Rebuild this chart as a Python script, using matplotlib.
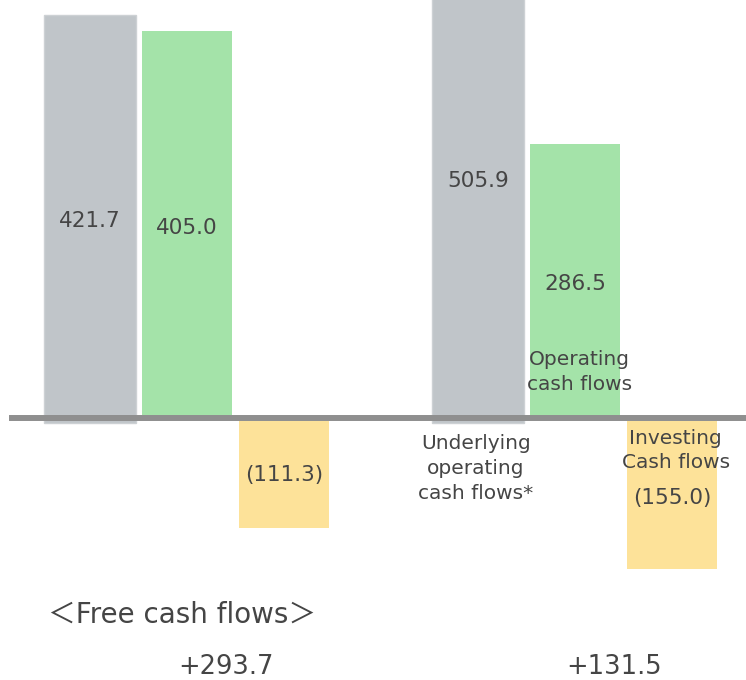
import numpy as np
import matplotlib.pyplot as plt

# Cash flow data (two periods)
underlying = [421.7, 505.9]
operating = [405.0, 286.5]
investing = [-111.3, -155.0]
free_cf = [293.7, 131.5]

gray = '#c0c5c9'
green = '#a4e3a9'
yellow = '#fde299'
txt = '#454545'

fig = plt.figure(figsize=(7.46, 6.8), dpi=100)
ax = fig.add_axes([0, 0, 1, 1])
ax.set_xlim(-0.928, 6.763)
ax.set_ylim(-274.3, 437.7)
ax.axis('off')

groups = np.array([0, 4])

# bars
ax.bar(groups, np.array(underlying) + 5, bottom=-5, width=0.95, color=gray,
       edgecolor='#cdd1d4', linewidth=1, zorder=2)
ax.bar(groups + 1, operating, width=0.92, color=green, zorder=2)
ax.bar(groups + 2, investing, bottom=-3.5, width=0.92, color=yellow, zorder=2)

# baseline
ax.axhline(0, xmin=12 / 746, xmax=1, color='#8f8f8f', lw=4.3, zorder=3)

# value labels
for i, g in enumerate(groups):
    ax.text(g, underlying[i] * 0.49, f'{underlying[i]:.1f}', ha='center', va='center',
            fontsize=15.5, color=txt, zorder=4)
    ax.text(g + 1, operating[i] * 0.49, f'{operating[i]:.1f}', ha='center', va='center',
            fontsize=15.5, color=txt, zorder=4)
    ax.text(g + 2, investing[i] * 0.54, f'({-investing[i]:.1f})', ha='center', va='center',
            fontsize=15.5, color=txt, zorder=4)
    ax.text(g + 1.4, -261, f'+{free_cf[i]:.1f}', ha='center', va='center',
            fontsize=18.5, color=txt)

# category labels (second group only)
ax.text(groups[1] - 0.02, -53, 'Underlying\noperating\ncash flows*', ha='center', va='center',
        fontsize=14.5, color=txt, linespacing=1.4, zorder=4)
ax.text(groups[1] + 1.05, 48, 'Operating\ncash flows', ha='center', va='center',
        fontsize=14.5, color=txt, linespacing=1.4, zorder=4)
ax.text(groups[1] + 2.04, -34, 'Investing\nCash flows', ha='center', va='center',
        fontsize=14.5, color=txt, linespacing=1.4, zorder=4)

ax.text(-0.43, -206, '＜Free cash flows＞', ha='left', va='center', fontsize=20,
        color=txt, family=['DejaVu Sans', 'Noto Sans CJK JP'])

fig.savefig('out.png', dpi=100)
